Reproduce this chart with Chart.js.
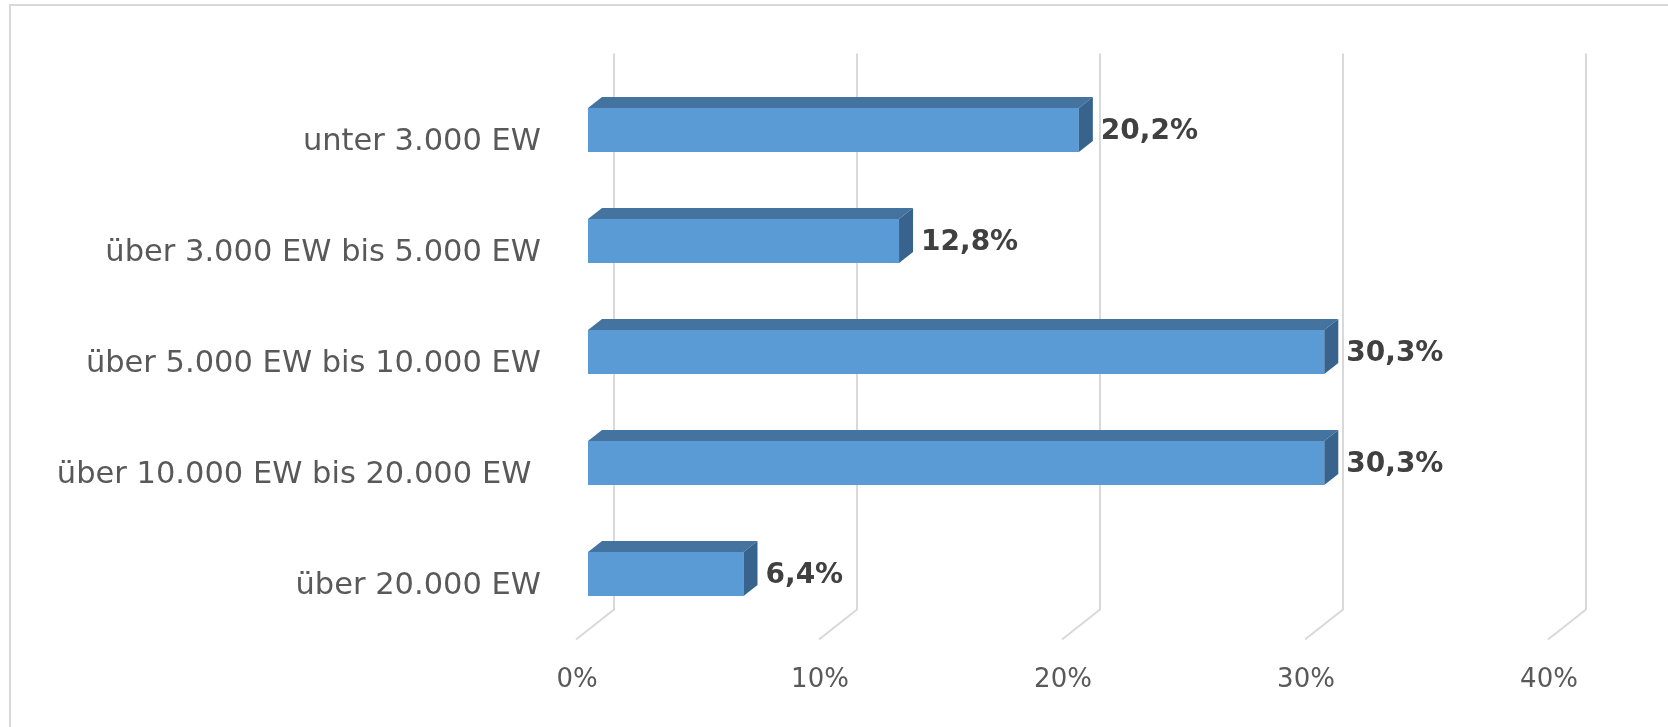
<!DOCTYPE html>
<html>
<head>
<meta charset="utf-8">
<script src="https://cdn.jsdelivr.net/npm/chart.js@4.4.1/dist/chart.umd.min.js"></script>
<style>
  body { margin: 0; background: #ffffff; }
  #wrap { width: 1668px; height: 727px; }
</style>
</head>
<body>
<div id="wrap"><canvas id="chart" width="1668" height="727"></canvas></div>
<script>
// chart data
const categories = [
    'unter 3.000 EW',
    'über 3.000 EW bis 5.000 EW',
    'über 5.000 EW bis 10.000 EW',
    'über 10.000 EW bis 20.000 EW ',
    'über 20.000 EW'
];
const shares = [20.2, 12.8, 30.3, 30.3, 6.4];
const tickValues = [0, 10, 20, 30, 40];

// look of the fake 3D (Excel style)
const depthX = 14;
const depthY = -11;
const frontColor = '#5b9bd5';
const topColor = '#44739f';
const sideColor = '#37638d';
const gridColor = '#d9d9d9';

function formatPercent(v) {
    return v.toFixed(1).replace('.', ',') + '%';
}

// white background + thin frame
const backgroundPlugin = {
    id: 'background',
    beforeDraw(chart) {
        const ctx = chart.ctx;
        ctx.save();
        ctx.fillStyle = '#ffffff';
        ctx.fillRect(0, 0, chart.width, chart.height);
        ctx.strokeStyle = '#d9d9d9';
        ctx.lineWidth = 2;
        ctx.strokeRect(10, 5, chart.width, chart.height);
        ctx.restore();
    }
};

// gridlines on the back wall, bent forward along the floor
const wallGridPlugin = {
    id: 'wallGrid',
    beforeDatasetsDraw(chart) {
        const ctx = chart.ctx;
        const xScale = chart.scales.x;
        const area = chart.chartArea;
        ctx.save();
        ctx.strokeStyle = gridColor;
        ctx.lineWidth = 2;
        xScale.ticks.forEach(t => {
            const px = xScale.getPixelForValue(t.value);
            ctx.beginPath();
            ctx.moveTo(px + 26, area.top - 21);
            ctx.lineTo(px + 26, area.bottom - 20);
            ctx.lineTo(px - 12, area.bottom + 10);
            ctx.stroke();
        });
        ctx.restore();
    }
};

// top and right faces of every bar, then the value label
const barDepthPlugin = {
    id: 'barDepth',
    afterDatasetsDraw(chart) {
        const ctx = chart.ctx;
        const meta = chart.getDatasetMeta(0);
        ctx.save();
        meta.data.forEach((bar, i) => {
            const p = bar.getProps(['x', 'y', 'base', 'height'], true);
            const top = p.y - p.height / 2;
            const bottom = p.y + p.height / 2;

            ctx.fillStyle = topColor;
            ctx.beginPath();
            ctx.moveTo(p.base, top);
            ctx.lineTo(p.base + depthX, top + depthY);
            ctx.lineTo(p.x + depthX, top + depthY);
            ctx.lineTo(p.x, top);
            ctx.closePath();
            ctx.fill();

            ctx.fillStyle = sideColor;
            ctx.beginPath();
            ctx.moveTo(p.x, top);
            ctx.lineTo(p.x + depthX, top + depthY);
            ctx.lineTo(p.x + depthX, bottom + depthY);
            ctx.lineTo(p.x, bottom);
            ctx.closePath();
            ctx.fill();

            ctx.fillStyle = '#404040';
            ctx.font = 'bold 28px "DejaVu Sans"';
            ctx.textAlign = 'left';
            ctx.textBaseline = 'middle';
            ctx.fillText(formatPercent(shares[i]), p.x + depthX + 8, p.y + 2);
        });
        ctx.restore();
    }
};

const ctx = document.getElementById('chart').getContext('2d');
const chart = new Chart(ctx, {
    type: 'bar',
    data: {
        labels: categories,
        datasets: [{
            data: shares,
            backgroundColor: frontColor,
            borderWidth: 0,
            barPercentage: 0.396,
            categoryPercentage: 1
        }]
    },
    options: {
        indexAxis: 'y',
        responsive: false,
        animation: false,
        layout: {
            padding: { top: 74.5, right: 108, left: 0, bottom: 0 }
        },
        plugins: {
            legend: { display: false },
            tooltip: { enabled: false }
        },
        scales: {
            x: {
                min: 0,
                max: 40,
                afterFit(scale) { scale.height = 97.5; },
                afterBuildTicks(scale) {
                    scale.ticks = tickValues.map(v => ({ value: v }));
                },
                grid: { display: false, drawTicks: false },
                border: { display: false },
                ticks: {
                    callback: v => v + '%',
                    color: '#595959',
                    font: { family: 'DejaVu Sans', size: 26 },
                    padding: 35,
                    labelOffset: -11,
                    maxRotation: 0
                }
            },
            y: {
                afterFit(scale) { scale.width = 588; },
                grid: { display: false, drawTicks: false },
                border: { display: false },
                ticks: {
                    color: '#595959',
                    font: { family: 'DejaVu Sans', size: 30.5 },
                    padding: 47,
                    labelOffset: 12
                }
            }
        }
    },
    plugins: [backgroundPlugin, wallGridPlugin, barDepthPlugin]
});
</script>
</body>
</html>
